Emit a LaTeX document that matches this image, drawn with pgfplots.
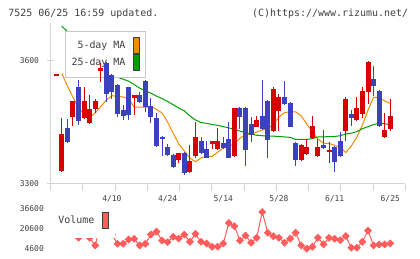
\documentclass[border=0pt]{standalone}
\usepackage{fontspec}
\usepackage{pgfplots}
\usepackage{pgfplotstable}
\pgfplotsset{compat=1.18}
\newfontfamily\chartfont{DejaVu Sans Mono}

\definecolor{upred}{RGB}{215,0,0}
\definecolor{downblue}{RGB}{60,66,190}
\definecolor{maorange}{RGB}{240,140,0}
\definecolor{magreen}{RGB}{0,160,0}
\definecolor{volred}{RGB}{255,92,92}
\definecolor{axisgray}{RGB}{212,212,212}
\definecolor{legendgray}{RGB}{200,200,200}
\definecolor{txtgray}{RGB}{64,64,64}

% rising days: index, open, high, low, close
\pgfplotstableread{
i o h l c
1 3562 3565 3562 3565
2 3332 3460 3330 3421
4 3463 3501 3440 3501
6 3459 3534 3457 3501
7 3448 3515 3446 3482
8 3482 3505 3471 3501
9 3574 3594 3546 3580
15 3509 3516 3467 3515
23 3359 3376 3350 3375
25 3328 3394 3326 3356
26 3368 3451 3364 3414
29 3398 3405 3384 3404
30 3384 3436 3382 3404
33 3368 3485 3366 3484
37 3439 3465 3437 3455
40 3429 3535 3427 3530
41 3477 3519 3429 3510
45 3358 3396 3356 3394
46 3373 3409 3371 3390
47 3411 3465 3409 3440
48 3368 3409 3366 3390
50 3379 3402 3350 3381
53 3428 3510 3404 3506
55 3454 3510 3452 3485
56 3469 3535 3459 3525
57 3523 3598 3494 3596
60 3413 3473 3411 3431
61 3434 3505 3429 3465
}\upcandles

% falling days: index, open, high, low, close
\pgfplotstableread{
i o h l c
3 3436 3457 3400 3402
5 3535 3553 3443 3453
10 3594 3596 3499 3519
11 3564 3566 3507 3522
12 3540 3542 3463 3470
13 3479 3491 3455 3465
14 3534 3536 3455 3467
16 3515 3523 3497 3499
17 3549 3551 3474 3487
18 3489 3509 3448 3463
19 3460 3473 3389 3392
20 3414 3416 3368 3408
21 3390 3398 3368 3370
22 3370 3372 3338 3340
24 3375 3377 3323 3327
27 3404 3414 3372 3374
28 3385 3404 3362 3364
31 3399 3413 3386 3388
32 3409 3450 3362 3364
34 3484 3486 3433 3463
35 3484 3486 3344 3382
36 3445 3463 3402 3419
38 3465 3553 3431 3433
39 3501 3503 3364 3407
42 3510 3549 3492 3494
43 3496 3498 3437 3439
44 3399 3401 3344 3358
49 3394 3431 3384 3388
51 3390 3392 3328 3354
52 3404 3425 3366 3368
54 3469 3479 3440 3459
58 3554 3585 3512 3538
59 3525 3527 3438 3440
}\downcandles

% 5-day moving average
\pgfplotstableread{
i v
2 3568
3 3537
4 3510
5 3484
6 3469
7 3461
8 3472
9 3488
10 3503
11 3514
12 3512
13 3511
14 3506
15 3486
16 3486
17 3486
18 3487
19 3481
20 3472
21 3450
22 3423
23 3397
24 3380
25 3363
26 3354
27 3363
28 3367
29 3367
30 3377
31 3387
32 3392
33 3397
34 3411
35 3419
36 3420
37 3426
38 3431
39 3434
40 3445
41 3462
42 3473
43 3475
44 3475
45 3465
46 3445
47 3426
48 3409
49 3399
50 3398
51 3394
52 3389
53 3376
54 3392
55 3414
56 3443
57 3479
58 3510
59 3510
60 3501
61 3495
}\mafive

% 25-day moving average
\pgfplotstableread{
i v
2 3682
12 3559
13 3554
14 3549
15 3541
16 3532
17 3526
18 3520
19 3513
20 3507
21 3500
22 3492
23 3484
24 3477
25 3465
26 3455
27 3449
28 3447
29 3444
30 3442
31 3439
32 3436
33 3432
34 3428
35 3425
36 3421
37 3418
38 3417
39 3416
40 3416
41 3415
42 3414
43 3413
44 3408
45 3408
46 3408
47 3410
48 3414
49 3414
50 3415
51 3415
52 3417
53 3421
54 3423
55 3427
56 3434
57 3439
58 3444
59 3447
60 3446
61 3443
}\matwentyfive

% daily volume
\pgfplotstableread{
i v
1 20000
2 26000
3 21000
4 17000
5 13400
6 18400
7 13400
8 7240
9 25200
10 17600
11 16000
12 8600
13 8600
14 12000
15 12600
16 7240
17 8600
18 16000
19 18400
20 11200
21 9900
22 14200
23 12800
24 16000
25 10200
26 16600
27 10200
28 8800
29 6200
30 6200
31 8800
32 25400
33 22700
34 11200
35 15200
36 9400
37 13400
38 34200
39 17400
40 14700
41 13400
42 9400
43 12600
44 17400
45 7240
46 4600
47 6200
48 13400
49 8040
50 13400
51 12600
52 11500
53 14700
54 5400
55 5400
56 10200
57 19200
58 7240
59 8040
60 8040
61 8840
}\volume

\pgfplotsset{
  price panel/.style={
    at={(50.7bp,75bp)}, anchor=south west,
    scale only axis, width=354.6bp, height=161bp,
    xmin=0, xmax=63.7, ymin=3300, ymax=3690},
  candle wick/.style={forget plot, draw=none, mark=none,
    error bars/.cd, y dir=both, y explicit, error mark=none,
    error bar style={draw=#1, line width=1bp}, /pgfplots/.cd},
  candle body/.style={forget plot, draw=none, mark=none,
    error bars/.cd, y dir=both, y explicit, error mark=none,
    error bar style={draw=#1, line width=5bp}, /pgfplots/.cd},
}

\begin{document}
\begin{tikzpicture}
\path[use as bounding box] (0bp,0bp) rectangle (420bp,259bp);

\node[anchor=base west, inner sep=0pt, text=txtgray, font=\chartfont\fontsize{10}{12}\selectfont]
  at (8.3bp,242.3bp) {7525 06/25 16:59 updated.};
\node[anchor=base east, inner sep=0pt, text=txtgray, font=\chartfont\fontsize{10}{12}\selectfont]
  at (408.3bp,242.3bp) {(C)https://www.rizumu.net/};

% price panel: frame, moving averages and their legend
\begin{axis}[
  price panel,
  axis lines*=left,
  axis line style={draw=axisgray, line width=1bp},
  xtick={0,5.791,11.582,17.373,23.164,28.955,34.745,40.536,46.327,52.118,57.909,63.7},
  xticklabels={},
  extra x ticks={11,21,31,41,51,61},
  extra x tick labels={4/10,4/24,5/14,5/28,6/11,6/25},
  extra x tick style={major tick length=0pt,
    xticklabel style={anchor=north, yshift=-11bp}},
  ytick={3300,3600}, yticklabels={3300,3600},
  tick align=center, major tick length=7bp,
  every tick/.style={draw=axisgray, line width=1bp},
  every major x tick/.append style={yshift=-3.5bp},
  tick label style={font=\chartfont\fontsize{8}{9}\selectfont, text=txtgray, inner sep=0bp},
  yticklabel style={anchor=east, xshift=-8bp},
  legend plot pos=right,
  legend cell align=right,
  legend style={at={(axis description cs:0.0412,0.9534)}, anchor=north west,
    draw=legendgray, line width=1bp, fill=white,
    inner xsep=5.7bp, inner ysep=6.5bp, row sep=1bp, column sep=7.7bp,
    font=\chartfont\fontsize{10}{12}\selectfont, text=txtgray,
    nodes={inner sep=0bp}},
]
\addplot[maorange, line width=1bp, mark=none,
  legend image code/.code={\draw[draw=black!75, fill=maorange, line width=1bp] (0bp,-7.5bp) rectangle (6bp,7.5bp);}]
  table[x=i, y=v] {\mafive};
\addlegendentry{5-day MA}
\addplot[magreen, line width=1bp, mark=none,
  legend image code/.code={\draw[draw=black!75, fill=magreen, line width=1bp] (0bp,-7.5bp) rectangle (6bp,7.5bp);}]
  table[x=i, y=v] {\matwentyfive};
\addlegendentry{25-day MA}
\end{axis}

% price panel: candles, drawn over the legend
\begin{axis}[
  price panel,
  axis lines=none, xtick=\empty, ytick=\empty,
]
\addplot[candle wick=upred]
  table[x=i, y expr={(\thisrow{h}+\thisrow{l})/2},
        y error plus expr={(\thisrow{h}-\thisrow{l})/2},
        y error minus expr={(\thisrow{h}-\thisrow{l})/2}] {\upcandles};
\addplot[candle body=upred]
  table[x=i, y expr={(\thisrow{o}+\thisrow{c})/2},
        y error plus expr={max(abs(\thisrow{c}-\thisrow{o}),4)/2},
        y error minus expr={max(abs(\thisrow{c}-\thisrow{o}),4)/2}] {\upcandles};
\addplot[candle wick=downblue]
  table[x=i, y expr={(\thisrow{h}+\thisrow{l})/2},
        y error plus expr={(\thisrow{h}-\thisrow{l})/2},
        y error minus expr={(\thisrow{h}-\thisrow{l})/2}] {\downcandles};
\addplot[candle body=downblue]
  table[x=i, y expr={(\thisrow{o}+\thisrow{c})/2},
        y error plus expr={max(abs(\thisrow{c}-\thisrow{o}),4)/2},
        y error minus expr={max(abs(\thisrow{c}-\thisrow{o}),4)/2}] {\downcandles};
\end{axis}

% volume panel
\begin{axis}[
  at={(50.7bp,4bp)}, anchor=south west,
  scale only axis, width=354.6bp, height=52bp,
  xmin=0, xmax=63.7, ymin=-478, ymax=41436,
  axis line style={draw=none},
  xtick=\empty,
  ytick={4600,20600,36600}, yticklabels={4600,20600,36600},
  scaled y ticks=false,
  major tick length=0pt, tick style={draw=none},
  tick label style={font=\chartfont\fontsize{8}{9}\selectfont, text=txtgray, inner sep=0bp},
  yticklabel style={anchor=east, xshift=-6.7bp},
  clip=false,
  legend plot pos=right,
  legend style={at={(axis description cs:0.0045,1)}, anchor=north west,
    draw=none, fill=white,
    inner xsep=6bp, inner ysep=9bp, column sep=7.7bp,
    font=\chartfont\fontsize{10}{12}\selectfont, text=txtgray,
    nodes={inner sep=0bp}},
]
\addplot[volred, line width=1bp, mark=square*, mark size=2.3bp,
  mark options={fill=volred, draw=volred, rotate=45},
  legend image code/.code={\draw[draw=black!75, fill=volred, line width=1bp] (0bp,-8bp) rectangle (6bp,8bp);}]
  table[x=i, y=v] {\volume};
\addlegendentry{Volume}
\end{axis}
\end{tikzpicture}
\end{document}
